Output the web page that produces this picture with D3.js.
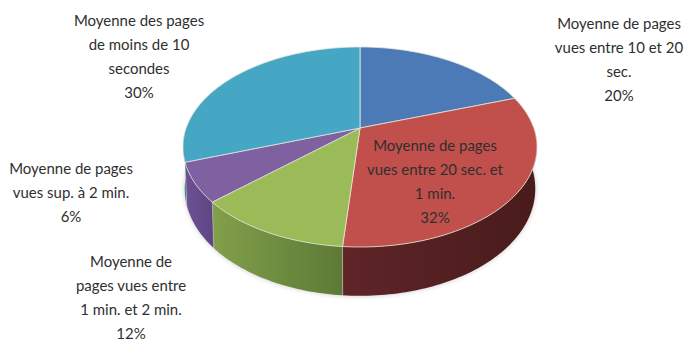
<!DOCTYPE html>
<html>
<head>
<meta charset="utf-8">
<script src="https://cdn.jsdelivr.net/npm/d3@7"></script>
<style>
  html, body { margin: 0; background: #fff; }
  svg { display: block; }
  text { font-family: Lato, "Open Sans", sans-serif; font-size: 15.6px; fill: #2f2f2f; text-anchor: middle; }
</style>
</head>
<body>
<div id="chart"></div>
<script>
// data, clockwise from 12 o'clock (labels show the rounded value)
const categories = [
  "Moyenne de pages vues entre 10 et 20 sec.",
  "Moyenne de pages vues entre 20 sec. et 1 min.",
  "Moyenne de pages vues entre 1 min. et 2 min.",
  "Moyenne de pages vues sup. à 2 min.",
  "Moyenne des pages de moins de 10 secondes",
];
const values = [19.7, 31.6, 12, 6.3, 30.4];
const labelLines = [
  ["Moyenne de pages", "vues entre 10 et 20", "sec."],
  ["Moyenne de pages", "vues entre 20 sec. et", "1 min."],
  ["Moyenne de", "pages vues entre", "1 min. et 2 min."],
  ["Moyenne de pages", "vues sup. à 2 min."],
  ["Moyenne des pages", "de moins de 10", "secondes"],
];
const topColors = ["#4c7ab6", "#c1504d", "#9bbb59", "#7f60a1", "#45a7c3"];
const sideColors = [
  ["#3a5d8a", "#2f4d75"],
  ["#5f2528", "#481b1b"],
  ["#82a04a", "#5c7a36"],
  ["#6d5193", "#5d4684"],
  ["#35829a", "#2c6e84"],
];

const width = 684, height = 342;
const labelLayout = [
  { x: 619, y: 29 },
  { x: 435, y: 151 },
  { x: 131, y: 267 },
  { x: 71, y: 174 },
  { x: 139, y: 26 },
];
const lineStep = 24;

// perspective tilt of the pie: the centre of the disc is not the centre of the ellipse
const pie3d = { cx: 360, cy: 128, a: 173.8, b: 96.4, p: 0.19, depth: 50 };

function project(angle, level) {
  const u = Math.sin(angle), v = Math.cos(angle);
  const w = 1 + pie3d.p * v;
  const shrink = level ? 0.99 : 1;
  const x = pie3d.cx + pie3d.a * shrink * u / w;
  let y = pie3d.cy - pie3d.b * shrink * v / w;
  if (level) y += pie3d.depth * (0.8 - 0.2 * v);
  return [x, y];
}

function arcPoints(a0, a1, level) {
  const n = Math.max(2, Math.ceil(Math.abs(a1 - a0) / 0.02));
  return d3.range(n + 1).map(i => project(a0 + (a1 - a0) * i / n, level));
}

const slices = d3.pie().sort(null).value(d => d)(values);
const line = d3.line();

const svg = d3.select("#chart").append("svg")
  .attr("width", width)
  .attr("height", height)
  .attr("viewBox", `0 0 ${width} ${height}`);

const defs = svg.append("defs");
defs.append("filter").attr("id", "soft")
  .attr("x", "-10%").attr("y", "-10%").attr("width", "120%").attr("height", "120%")
  .append("feGaussianBlur").attr("stdDeviation", 2.5);

sideColors.forEach((c, i) => {
  const g = defs.append("linearGradient").attr("id", `side${i}`);
  g.append("stop").attr("offset", "0%").attr("stop-color", c[0]);
  g.append("stop").attr("offset", "100%").attr("stop-color", c[1]);
});

const pieGroup = svg.append("g").attr("class", "pie");

// soft shadow round the lower disc
pieGroup.append("path")
  .attr("d", line(arcPoints(0, 2 * Math.PI, 1)) + "Z")
  .attr("fill", "#999")
  .attr("opacity", 0.55)
  .attr("filter", "url(#soft)");

// sides, only the part of each slice that faces the viewer
const frontFrom = Math.PI / 2 - 0.02, frontTo = 3 * Math.PI / 2 + 0.02;
slices.forEach((d, i) => {
  const a0 = Math.max(d.startAngle, frontFrom), a1 = Math.min(d.endAngle, frontTo);
  if (a1 <= a0) return;
  const pts = arcPoints(a0, a1, 0).concat(arcPoints(a1, a0, 1));
  pieGroup.append("path")
    .attr("d", line(pts) + "Z")
    .attr("fill", `url(#side${i})`);
});

// vertical edges between side faces
slices.forEach(d => {
  const a = d.endAngle;
  if (a < frontFrom || a > frontTo) return;
  pieGroup.append("path")
    .attr("d", line([project(a, 0), project(a, 1)]))
    .attr("stroke", "#d8d8d0").attr("stroke-width", 0.7).attr("opacity", 0.7);
});

// top faces
pieGroup.selectAll("path.top")
  .data(slices)
  .join("path")
  .attr("class", "top")
  .attr("d", d => line([[pie3d.cx, pie3d.cy]].concat(arcPoints(d.startAngle, d.endAngle, 0))) + "Z")
  .attr("fill", (d, i) => topColors[i])
  .attr("stroke", "#e6e6dc")
  .attr("stroke-width", 0.8)
  .attr("stroke-linejoin", "round");

// labels, squeezed a little because Lato runs wider than the original font
const labels = svg.append("g").attr("class", "labels")
  .selectAll("text")
  .data(slices)
  .join("text")
  .attr("transform", (d, i) => `translate(${labelLayout[i].x},${labelLayout[i].y}) scale(0.96,1)`);

labels.each(function (d, i) {
  const lines = labelLines[i].concat(`${Math.round(d.value)}%`);
  d3.select(this).selectAll("tspan")
    .data(lines)
    .join("tspan")
    .attr("x", 0)
    .attr("y", (l, j) => j * lineStep)
    .text(l => l);
});
</script>
</body>
</html>
